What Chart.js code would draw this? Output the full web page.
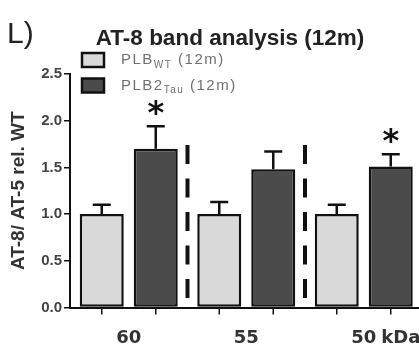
<!DOCTYPE html>
<html>
<head>
<meta charset="utf-8">
<script src="https://cdn.jsdelivr.net/npm/chart.js@4.4.1/dist/chart.umd.min.js"></script>
<style>
html,body{margin:0;padding:0;background:#fff;overflow:hidden;}
#wrap{width:430px;height:347px;}
</style>
</head>
<body>
<div id="wrap"><canvas id="c" width="430" height="347"></canvas></div>
<script>
// ---- data ----
const categories = ["60", "55", "50"];
const unitLabel = "kDa";
const wtValues = [1.00, 1.00, 1.00];
const wtErrors = [0.10, 0.13, 0.10];
const tauValues = [1.70, 1.48, 1.51];
const tauErrors = [0.24, 0.19, 0.13];
const tauSignificant = [true, false, true];
const seriesNames = ["PLB", "PLB2"];
const seriesSubs = ["WT", "Tau"];
const seriesSuffix = " (12m)";
const yTicks = [0, 0.5, 1.0, 1.5, 2.0, 2.5];
const panelLetter = "L)";
const chartTitle = "AT-8 band analysis (12m)";
const yTitle = "AT-8/ AT-5 rel. WT";
const separatorRange = [0.08, 1.74];

const lightFill = "#d9d9d9";
const darkFill = "#4b4b4b";

const decorPlugin = {
  id: "decor",
  afterDatasetsDraw(chart) {
    const ctx = chart.ctx;
    const x = chart.scales.x, y = chart.scales.y;
    ctx.save();
    const errs = [wtErrors, tauErrors];
    const vals = [wtValues, tauValues];
    [0, 1].forEach(di => {
      const meta = chart.getDatasetMeta(di);
      meta.data.forEach((bar, i) => {
        const top = y.getPixelForValue(vals[di][i] + errs[di][i]);
        const base = y.getPixelForValue(vals[di][i]);
        ctx.strokeStyle = "#111";
        ctx.lineWidth = 2.5;
        ctx.beginPath();
        ctx.moveTo(bar.x, base);
        ctx.lineTo(bar.x, top);
        ctx.moveTo(bar.x - 9, top);
        ctx.lineTo(bar.x + 9, top);
        ctx.stroke();
        ctx.lineWidth = 1.5;
        ctx.beginPath();
        ctx.moveTo(bar.x, y.bottom);
        ctx.lineTo(bar.x, y.bottom + 7);
        ctx.stroke();
        if (di === 1 && tauSignificant[i]) {
          ctx.fillStyle = "#111";
          ctx.font = "bold 32px 'DejaVu Sans'";
          ctx.textAlign = "center";
          ctx.textBaseline = "middle";
          ctx.fillText("*", bar.x, top - 12);
        }
      });
    });
    ctx.strokeStyle = "#111";
    ctx.lineWidth = 4;
    ctx.setLineDash([19, 14.5]);
    for (let i = 0; i < categories.length - 1; i++) {
      const sx = x.getPixelForValue(i + 0.5);
      ctx.beginPath();
      ctx.moveTo(sx, y.getPixelForValue(separatorRange[1]));
      ctx.lineTo(sx, y.getPixelForValue(separatorRange[0]));
      ctx.stroke();
    }
    ctx.setLineDash([]);
    ctx.fillStyle = "#333";
    ctx.font = "bold 18px 'DejaVu Sans'";
    ctx.textAlign = "left";
    ctx.textBaseline = "middle";
    const lastX = x.getPixelForValue(categories.length - 1);
    const w = ctx.measureText(categories[categories.length - 1]).width;
    ctx.fillText(unitLabel, lastX + w / 2 + 5, 338);
    ctx.fillStyle = "#222";
    ctx.font = "30px 'Liberation Sans'";
    ctx.textAlign = "left";
    ctx.textBaseline = "alphabetic";
    ctx.fillText(panelLetter, 7, 43);
    ctx.font = "bold 22.5px 'Liberation Sans'";
    ctx.textAlign = "center";
    ctx.fillText(chartTitle, 230, 45);
    const fills = [lightFill, darkFill];
    const ys = [60, 85.5];
    for (let k = 0; k < 2; k++) {
      ctx.fillStyle = fills[k];
      ctx.fillRect(82, ys[k] - 7, 22, 14);
      ctx.strokeStyle = "#111";
      ctx.lineWidth = 2.5;
      ctx.strokeRect(82, ys[k] - 7, 22, 14);
      ctx.fillStyle = "#707070";
      ctx.textAlign = "left";
      ctx.textBaseline = "middle";
      ctx.letterSpacing = "1.5px";
      ctx.font = "15px 'Liberation Sans'";
      let tx = 121;
      ctx.fillText(seriesNames[k], tx, ys[k]);
      tx += ctx.measureText(seriesNames[k]).width;
      ctx.font = "10px 'Liberation Sans'";
      ctx.fillText(seriesSubs[k], tx, ys[k] + 5);
      tx += ctx.measureText(seriesSubs[k]).width;
      ctx.font = "15px 'Liberation Sans'";
      ctx.fillText(seriesSuffix, tx, ys[k]);
      ctx.letterSpacing = "0px";
    }
    ctx.restore();
  }
};

new Chart(document.getElementById("c"), {
  type: "bar",
  data: {
    labels: categories,
    datasets: [
      { label: seriesNames[0] + seriesSubs[0] + seriesSuffix, data: wtValues, backgroundColor: lightFill, borderColor: "#111", borderWidth: 2.5, borderSkipped: false },
      { label: seriesNames[1] + seriesSubs[1] + seriesSuffix, data: tauValues, backgroundColor: darkFill, borderColor: "#111", borderWidth: 2.5, borderSkipped: false }
    ]
  },
  options: {
    responsive: false,
    animation: false,
    devicePixelRatio: 1,
    categoryPercentage: 0.919,
    barPercentage: 0.815,
    layout: { padding: { top: 74, right: 7.5, left: 0, bottom: 0 } },
    plugins: { legend: { display: false }, tooltip: { enabled: false }, title: { display: false } },
    scales: {
      x: {
        offset: true,
        grid: { display: false },
        border: { display: true, color: "#111", width: 2 },
        ticks: { color: "#333", font: { family: "'DejaVu Sans'", size: 18, weight: "bold" }, padding: 12, maxRotation: 0 },
        afterFit(s) { s.height = 39.5; }
      },
      y: {
        min: 0, max: 2.5,
        afterBuildTicks(s) { s.ticks = yTicks.map(v => ({ value: v })); },
        grid: { drawOnChartArea: false, drawTicks: true, tickLength: 6, color: "#111", lineWidth: 1.5 },
        border: { display: true, color: "#111", width: 2 },
        ticks: { color: "#444", font: { family: "'Liberation Sans'", size: 15, weight: "bold" }, padding: 2, callback: v => v.toFixed(1) },
        title: { display: true, text: yTitle, color: "#333", font: { family: "'Liberation Sans'", size: 19, weight: "bold" }, padding: { top: 7, bottom: 0 } },
        afterFit(s) { s.width = 70; }
      }
    }
  },
  plugins: [decorPlugin]
});
</script>
</body>
</html>
